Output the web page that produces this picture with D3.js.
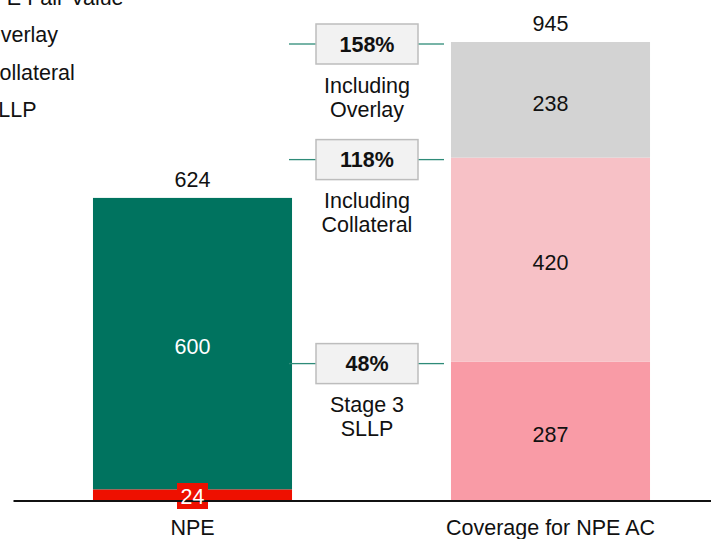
<!DOCTYPE html>
<html>
<head>
<meta charset="utf-8">
<script src="https://cdn.jsdelivr.net/npm/d3@7"></script>
<style>
  html, body { margin: 0; padding: 0; background: #ffffff; }
  svg { display: block; font-family: "Liberation Sans", Arial, sans-serif; }
</style>
</head>
<body>
<svg id="chart" width="711" height="539"></svg>
<script>
// Categories on the x axis
const categories = ["NPE", "Coverage for NPE AC"];

// Series values per category (stacked bottom to top)
const npeFairValue = [24, 0];
const npeAC = [600, 0];
const sllp = [0, 287];
const collateral = [0, 420];
const overlay = [0, 238];

// Legend entries
const legendLabels = ["NPE Fair Value", "Overlay", "Collateral", "SLLP"];

// Coverage ratios with their captions, bottom to top
const coverageRatios = [48, 118, 158];
const coverageCaptions = [["Stage 3", "SLLP"], ["Including", "Collateral"], ["Including", "Overlay"]];
const coverageSeries = ["sllp", "collateral", "overlay"];

const seriesKeys = ["npeFairValue", "npeAC", "sllp", "collateral", "overlay"];
const seriesValues = { npeFairValue, npeAC, sllp, collateral, overlay };
const colors = {
  npeFairValue: "#ee1000",
  npeAC: "#00735f",
  sllp: "#f99ba6",
  collateral: "#f7c1c6",
  overlay: "#d3d3d3"
};
const labelColors = {
  npeFairValue: "#ffffff",
  npeAC: "#ffffff",
  sllp: "#111111",
  collateral: "#111111",
  overlay: "#111111"
};
const fontSize = 21.5;
const textColor = "#111111";

const rows = categories.map((c, i) => {
  const r = { category: c };
  seriesKeys.forEach(k => { r[k] = seriesValues[k][i]; });
  return r;
});
const stacked = d3.stack().keys(seriesKeys)(rows);
const totals = rows.map(r => d3.sum(seriesKeys, k => r[k]));

const svg = d3.select("#chart");
const baseY = 501;
const topY = 42;

const x = d3.scaleBand()
  .domain(categories)
  .range([13.5, 729.5])
  .paddingInner(0.444)
  .paddingOuter(0.222);

const y = d3.scaleLinear()
  .domain([0, d3.max(totals)])
  .range([baseY, topY]);

// Stacked bars
const layers = svg.append("g").selectAll("g")
  .data(stacked)
  .join("g")
  .attr("fill", d => colors[d.key]);

layers.selectAll("rect")
  .data(d => d.map(s => ({ key: d.key, s })))
  .join("rect")
  .filter(d => d.s[1] - d.s[0] > 0)
  .attr("x", d => x(d.s.data.category))
  .attr("width", x.bandwidth())
  .attr("y", d => y(d.s[1]))
  .attr("height", d => y(d.s[0]) - y(d.s[1]));

// Segment value labels (small segments get a boxed label at the base)
const segLabels = [];
stacked.forEach(layer => {
  layer.forEach(s => {
    const v = s[1] - s[0];
    if (v > 0) segLabels.push({ key: layer.key, v, s });
  });
});

const segBoxes = svg.append("g");

// Axis baseline
const xAxis = d3.axisBottom(x).tickSize(0).tickPadding(19);
const axisG = svg.append("g")
  .attr("transform", `translate(0,${baseY})`)
  .call(xAxis);
axisG.select(".domain")
  .attr("d", `M13.5,0H711`)
  .attr("stroke", "#111111")
  .attr("stroke-width", 2);
axisG.selectAll(".tick text")
  .attr("font-size", fontSize)
  .attr("font-family", "'Liberation Sans', Arial, sans-serif")
  .attr("fill", textColor);

const segG = svg.append("g");
segLabels.forEach(d => {
  const cx = x(d.s.data.category) + x.bandwidth() / 2;
  const h = y(d.s[0]) - y(d.s[1]);
  const small = h < 26;
  const cy = small ? baseY - 5 : (y(d.s[0]) + y(d.s[1])) / 2 + 3;
  if (small) {
    segBoxes.append("rect")
      .attr("x", cx - 15.5)
      .attr("y", cy - 13)
      .attr("width", 31)
      .attr("height", 26)
      .attr("fill", colors[d.key]);
  }
  segG.append("text")
    .attr("x", cx)
    .attr("y", cy)
    .attr("dy", "0.36em")
    .attr("text-anchor", "middle")
    .attr("font-size", fontSize)
    .attr("fill", labelColors[d.key])
    .text(d.v);
});

// Totals above bars
svg.append("g").selectAll("text")
  .data(categories)
  .join("text")
  .attr("x", c => x(c) + x.bandwidth() / 2)
  .attr("y", (c, i) => y(totals[i]) - 11)
  .attr("text-anchor", "middle")
  .attr("font-size", fontSize)
  .attr("fill", textColor)
  .text((c, i) => totals[i]);

// Coverage ratio callouts between the bars
const gapLeft = x(categories[0]) + x.bandwidth();
const gapRight = x(categories[1]);
const callX = (gapLeft + gapRight) / 2 - 4.5;
const boxW = 102, boxH = 40;
const covIdx = categories.indexOf("Coverage for NPE AC");
const coverageTops = coverageSeries.map(k => stacked.find(l => l.key === k)[covIdx][1]);

const callG = svg.append("g");
coverageRatios.forEach((r, i) => {
  const cy = y(coverageTops[i]) + 2;
  const g = callG.append("g");
  g.append("line")
    .attr("x1", callX - 78).attr("x2", callX - boxW / 2)
    .attr("y1", cy).attr("y2", cy)
    .attr("stroke", "#2e8b78").attr("stroke-width", 1.3);
  g.append("line")
    .attr("x1", callX + boxW / 2).attr("x2", callX + 77)
    .attr("y1", cy).attr("y2", cy)
    .attr("stroke", "#2e8b78").attr("stroke-width", 1.3);
  g.append("rect")
    .attr("x", callX - boxW / 2)
    .attr("y", cy - boxH / 2)
    .attr("width", boxW)
    .attr("height", boxH)
    .attr("fill", "#f2f2f2")
    .attr("stroke", "#bdbdbd")
    .attr("stroke-width", 1.5);
  g.append("text")
    .attr("x", callX)
    .attr("y", cy)
    .attr("dy", "0.36em")
    .attr("text-anchor", "middle")
    .attr("font-size", fontSize)
    .attr("font-weight", "bold")
    .attr("fill", textColor)
    .text(r + "%");
  coverageCaptions[i].forEach((line, j) => {
    g.append("text")
      .attr("x", callX)
      .attr("y", cy + 41 + j * 24)
      .attr("dy", "0.36em")
      .attr("text-anchor", "middle")
      .attr("font-size", fontSize)
      .attr("fill", textColor)
      .text(line);
  });
});

// Legend (runs past the left edge of the drawing area)
const legendG = svg.append("g");
legendLabels.forEach((lab, i) => {
  const ly = 4.5 + i * 37.5;
  const lx = i === 0 ? -23 : -16;
  legendG.append("text")
    .attr("x", lx)
    .attr("y", ly)
    .attr("font-size", fontSize)
    .attr("fill", textColor)
    .text(lab);
});
</script>
</body>
</html>
